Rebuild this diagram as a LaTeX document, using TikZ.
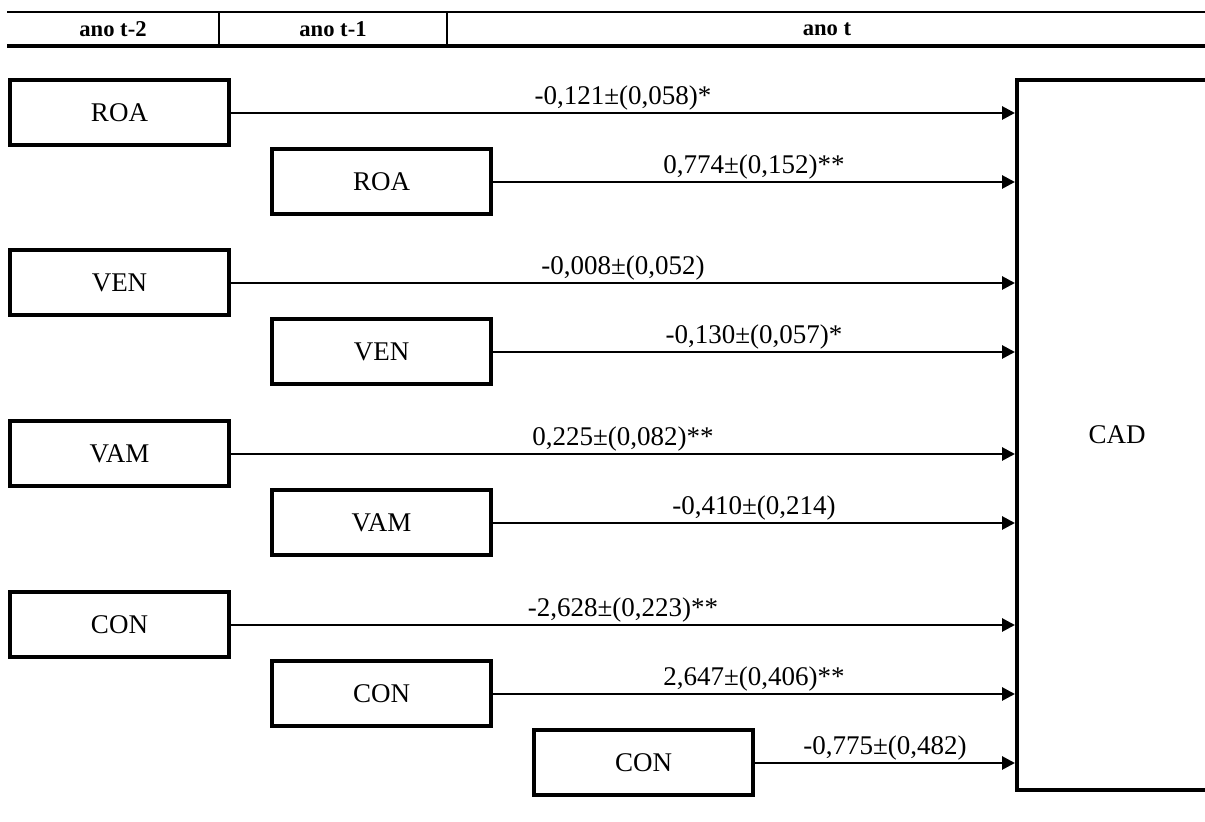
\documentclass[tikz,border=0pt]{standalone}
\usepackage{fontspec}
\setmainfont{Liberation Serif}
\usetikzlibrary{arrows.meta,positioning}

\begin{document}
\begin{tikzpicture}[
            x=0.5pt, y=-0.5pt,
            node distance=0pt and 19.5pt,
            box/.style={
                    draw=black,
                    fill=white,
                    rectangle,
                    line width=2pt,
                    minimum width=109.5pt,
                    minimum height=32.5pt,
                    inner sep=0pt,
                    align=center,
                    font=\fontsize{13.5}{16}\selectfont
                },
            head/.style={
                    font=\fontsize{11.3}{13}\selectfont\bfseries,
                    inner sep=0pt
                },
            arrow/.style={
            -{Triangle[length=6.5pt,width=6.5pt]},
            color=black,
            line width=1.4pt
            },
            coef/.style={
                    above=0.5pt,
                    inner sep=0pt,
                    font=\fontsize{13.5}{16}\selectfont
                }
            ]

            \clip (0,0) rectangle (1205,822);

            % --- CABECALHO ---
            \draw[line width=1.1pt] (7,12) -- (1205,12);
            \draw[line width=2pt] (7,46) -- (1205,46);
            \draw[line width=1pt] (219,12) -- (219,46);
            \draw[line width=1pt] (447,12) -- (447,46);
            \node[head] (hT2) at (113,29) {ano t-2};
            \node[head] (hT1) at (333,29) {ano t-1};
            \node[head] (hT) at (827,29) {ano t};

            % 1. Variavel dependente CAD (ano t)
            \node[box, minimum width=100pt, minimum height=355pt] (cad) at (1117,435) {CAD};

            % 2. ROA
            \node[box] (roaA) at (119.5,113) {ROA};
            \node[box, below right=of roaA] (roaB) {ROA};

            % 3. VEN
            \node[box] (venA) at (119.5,283) {VEN};
            \node[box, below right=of venA] (venB) {VEN};

            % 4. VAM
            \node[box] (vamA) at (119.5,454) {VAM};
            \node[box, below right=of vamA] (vamB) {VAM};

            % 5. CON
            \node[box] (conA) at (119.5,625) {CON};
            \node[box, below right=of conA] (conB) {CON};
            \node[box, below right=of conB] (conC) {CON};

            % --- COEFICIENTES ---
            \draw[arrow] (roaA.east) -- (roaA.east -| cad.west) node[midway, coef] {-0,121±(0,058)*};
            \draw[arrow] (roaB.east) -- (roaB.east -| cad.west) node[midway, coef] {0,774±(0,152)**};
            \draw[arrow] (venA.east) -- (venA.east -| cad.west) node[midway, coef] {-0,008±(0,052)};
            \draw[arrow] (venB.east) -- (venB.east -| cad.west) node[midway, coef] {-0,130±(0,057)*};
            \draw[arrow] (vamA.east) -- (vamA.east -| cad.west) node[midway, coef] {0,225±(0,082)**};
            \draw[arrow] (vamB.east) -- (vamB.east -| cad.west) node[midway, coef] {-0,410±(0,214)};
            \draw[arrow] (conA.east) -- (conA.east -| cad.west) node[midway, coef] {-2,628±(0,223)**};
            \draw[arrow] (conB.east) -- (conB.east -| cad.west) node[midway, coef] {2,647±(0,406)**};
            \draw[arrow] (conC.east) -- (conC.east -| cad.west) node[midway, coef] {-0,775±(0,482)};

        \end{tikzpicture}
\end{document}
